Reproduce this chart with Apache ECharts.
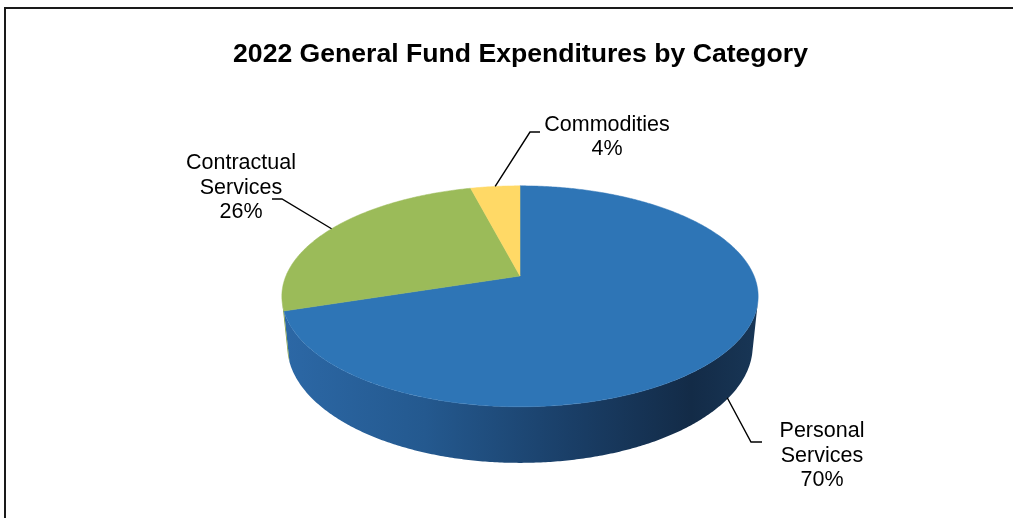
<!DOCTYPE html>
<html>
<head>
<meta charset="utf-8">
<script src="https://cdn.jsdelivr.net/npm/echarts@6/dist/echarts.min.js"></script>
<style>
  html, body { margin: 0; padding: 0; background: #ffffff; }
  #chart { width: 1013px; height: 518px; }
</style>
</head>
<body>
<div id="chart"></div>
<script>
// Expenditure categories and their shares of the 2022 general fund
const categories = ['Personal Services', 'Contractual Services', 'Commodities'];
const values = [70, 26, 4];
const labelNames = [['Personal', 'Services'], ['Contractual', 'Services'], ['Commodities']];

// Slice styling
const topColors = ['#2E75B6', '#9BBB59', '#FFD966'];
const wallStops = [
  [[0, '#2C68A6'], [0.3, '#24598F'], [0.6, '#1A3F68'], [0.86, '#132B47'], [1, '#183656']],
  [[0, '#7C9A45'], [1, '#55692F']],
  [[0, '#C9A94E'], [1, '#8C7433']]
];

// Label placement: text centre and leader elbow/end for each slice
const labelLayout = [
  { tx: 822, ty: 456, elbow: [751, 442], end: [762, 442] },
  { tx: 241, ty: 188, elbow: [282, 199], end: [272, 199] },
  { tx: 607, ty: 137, elbow: [530, 132], end: [540, 132] }
];

// Perspective view of the tilted disc
const view = {
  cx: 520, cy: 276, f: 1133, dist: 4.84,
  sinA: 0.456, cosA: 0.890, thick: 0.24
};

// point on the disc at polar (radius r, clockwise angle from 12 o'clock), height h
function project(deg, h, r) {
  const rad = deg * Math.PI / 180;
  const k = r === undefined ? 1 : r;
  const x = k * Math.sin(rad);
  const z = -k * Math.cos(rad);
  const v = -h * view.cosA + z * view.sinA;
  const w = view.dist - (z * view.cosA + h * view.sinA);
  return [view.cx + view.f * x / w, view.cy + view.f * v / w];
}

function rim(a0, a1, h) {
  const pts = [];
  const n = Math.max(2, Math.ceil(Math.abs(a1 - a0) * 2));
  for (let i = 0; i <= n; i++) pts.push(project(a0 + (a1 - a0) * i / n, h));
  return pts;
}

// the side wall faces the viewer where its depth coordinate exceeds this
const facingLimit = Math.acos(-1 / (view.dist * view.cosA)) * 180 / Math.PI;
const wallFrom = facingLimit;          // right side
const wallTo = 360 - facingLimit;      // left side

const total = values.reduce((s, v) => s + v, 0);
const startAngles = [];
let acc = 0;
values.forEach(v => { startAngles.push(acc / total * 360); acc += v; });

const FONT = '"Liberation Sans", Arial, sans-serif';

function renderSlice(params, api) {
  const i = params.dataIndex;
  const v = api.value(0);
  const a0 = startAngles[i];
  const a1 = a0 + v / total * 360;
  const mid = (a0 + a1) / 2;
  const children = [];

  // front wall (only the part turned toward the viewer)
  const s = Math.max(a0, wallFrom), e = Math.min(a1, wallTo);
  if (e > s) {
    const pts = rim(s, e, 0).concat(rim(e, s, -view.thick));
    children.push({
      type: 'polygon',
      z2: 5,
      shape: { points: pts },
      style: {
        fill: {
          type: 'linear', x: 282, y: 0, x2: 758, y2: 0, global: true,
          colorStops: wallStops[i].map(c => ({ offset: c[0], color: c[1] }))
        },
        stroke: null
      }
    });
  }

  // top face
  children.push({
    type: 'polygon',
    z2: 10,
    shape: { points: [project(0, 0, 0)].concat(rim(a0, a1, 0)) },
    style: { fill: topColors[i], stroke: topColors[i], lineWidth: 0.5 }
  });

  // leader line from the slice to its label
  const lay = labelLayout[i];
  const facing = mid > wallFrom && mid < wallTo;
  const anchor = facing ? project(mid, -view.thick * 0.97) : project(mid, 0);
  children.push({
    type: 'polyline',
    z2: 20,
    shape: { points: [anchor, lay.elbow, lay.end] },
    style: { stroke: '#000000', lineWidth: 1.4, fill: null }
  });

  const pct = Math.round(v / total * 100) + '%';
  children.push({
    type: 'text',
    z2: 20,
    x: lay.tx,
    y: lay.ty,
    style: {
      text: labelNames[i].concat([pct]).join('\n'),
      align: 'center',
      verticalAlign: 'middle',
      font: '21.5px ' + FONT,
      lineHeight: 24.5,
      fill: '#000000'
    }
  });

  return { type: 'group', children: children };
}

const chart = echarts.init(document.getElementById('chart'));
chart.setOption({
  animation: false,
  backgroundColor: '#ffffff',
  graphic: [
    {
      type: 'rect',
      shape: { x: 5, y: 8, width: 1100, height: 600 },
      style: { fill: null, stroke: '#1a1a1a', lineWidth: 2 },
      silent: true
    },
    {
      type: 'text',
      x: 520.5,
      y: 55,
      style: {
        text: '2022 General Fund Expenditures by Category',
        align: 'center',
        verticalAlign: 'middle',
        font: 'bold 26.6px ' + FONT,
        fill: '#000000'
      }
    }
  ],
  series: [{
    type: 'custom',
    coordinateSystem: 'none',
    renderItem: renderSlice,
    data: values.map((v, i) => ({ name: categories[i], value: [v] }))
  }]
});
</script>
</body>
</html>
